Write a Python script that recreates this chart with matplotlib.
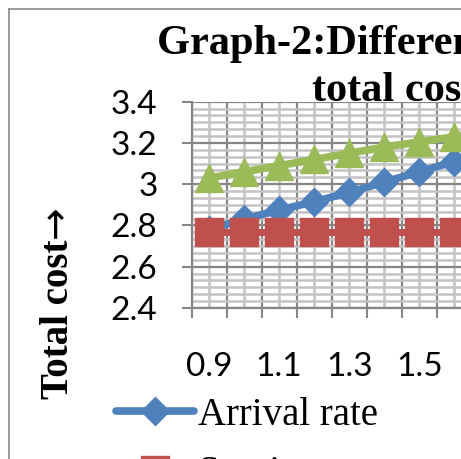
import numpy as np
import matplotlib
matplotlib.use("Agg")
import matplotlib.pyplot as plt
from matplotlib.lines import Line2D

# x categories (only the first ones are visible in the crop)
categories = ["0.9", "1.0", "1.1", "1.2", "1.3", "1.4", "1.5", "1.6", "1.7"]
arrival_rate = [2.78, 2.83, 2.875, 2.915, 2.96, 3.01, 3.06, 3.11, 3.15]
service_rate = [2.77, 2.77, 2.77, 2.77, 2.77, 2.77, 2.77, 2.77, 2.77]
server_cost = [3.03, 3.06, 3.09, 3.12, 3.15, 3.18, 3.205, 3.23, 3.26]
series_names = ["Arrival rate", "Service rate", "Server cost"]
yticks = [2.4, 2.6, 2.8, 3.0, 3.2, 3.4]
yticklabels = ["2.4", "2.6", "2.8", "3", "3.2", "3.4"]

W, H = 461, 459
fig = plt.figure(figsize=(W / 100, H / 100), dpi=100)

serif = ["Liberation Serif", "DejaVu Sans"]
sans = ["Lato", "DejaVu Sans"]

n = len(categories)
step = 35.04
ax = fig.add_axes([191.5 / W, (H - 308) / H, n * step / W, 206.3 / H])
x = np.arange(n)

blue, red, green = "#4F81BD", "#C0504D", "#9BBB59"
l1, = ax.plot(x, arrival_rate, color=blue, lw=5.5, marker="D", ms=14,
              solid_capstyle="round", label=series_names[0], clip_on=False)
l2, = ax.plot(x, service_rate, color=red, lw=5, marker="s", ms=20,
              label=series_names[1], clip_on=False)
l3, = ax.plot(x, server_cost, color=green, lw=5.5, marker="^", ms=20,
              label=series_names[2], clip_on=False)

ax.set_xlim(-0.5, n - 0.5)
ax.set_ylim(2.4, 3.4)

dark = "#868686"
light = "#c3c3c3"
ax.set_xticks(np.arange(-0.5, n, 1))
ax.set_xticklabels([])
ax.set_xticks(x, minor=True)
ax.set_xticklabels([c if i % 2 == 0 else "" for i, c in enumerate(categories)],
                   minor=True, family=sans, fontsize=24)
ax.set_yticks(yticks)
ax.set_yticklabels(yticklabels, family=sans, fontsize=24)
ax.set_yticks(np.arange(2.4, 3.4001, 0.2 / 6), minor=True)

ax.tick_params(which="major", direction="out", length=7.5, width=1.5, color=dark)
ax.tick_params(axis="y", which="major", pad=17)
ax.tick_params(which="minor", length=0)
ax.tick_params(axis="x", which="minor", pad=32)

ax.set_axisbelow(True)
ax.grid(which="minor", color=light, lw=1.8)
ax.grid(which="major", color=dark, lw=1.6)
for s in ["top", "right"]:
    ax.spines[s].set_visible(False)
for s in ["left", "bottom"]:
    ax.spines[s].set_color(dark)
    ax.spines[s].set_linewidth(1.6)

# chart border (cropped on right and bottom)
bx, by = 9 / W, 1 - 9 / H
fig.add_artist(Line2D([bx, 1.0], [by, by], color="#8a8a8a", lw=1.2))
fig.add_artist(Line2D([bx, bx], [by, 0.0], color="#8a8a8a", lw=1.2))

# title, two lines
fig.text(157 / W, 1 - 54 / H, "Graph-2:Different rates vs", family=serif,
         fontweight="bold", fontsize=30.5, ha="left", va="baseline")
fig.text(312 / W, 1 - 101 / H, "total cost", family=serif,
         fontweight="bold", fontsize=30.5, ha="left", va="baseline")

# y axis title: text plus a thin arrow
fig.text(68 / W, 1 - 319 / H, "Total cost", family=serif, fontweight="bold",
         fontsize=28, rotation=90, rotation_mode="anchor",
         ha="center", va="baseline")
fig.text(67 / W, 1 - 222 / H, "\u2192", family=["DejaVu Sans"],
         fontsize=28, rotation=90, rotation_mode="anchor",
         ha="center", va="baseline")

fig.legend(handles=[l1, l2, l3], labels=series_names, loc="upper left",
           bbox_to_anchor=(116 / W, 1 - 397 / H), frameon=False, borderpad=0,
           borderaxespad=0, handlelength=2.0, handletextpad=0.12,
           labelspacing=0.55, prop={"family": serif, "size": 28})

fig.savefig("out.png", dpi=100)
